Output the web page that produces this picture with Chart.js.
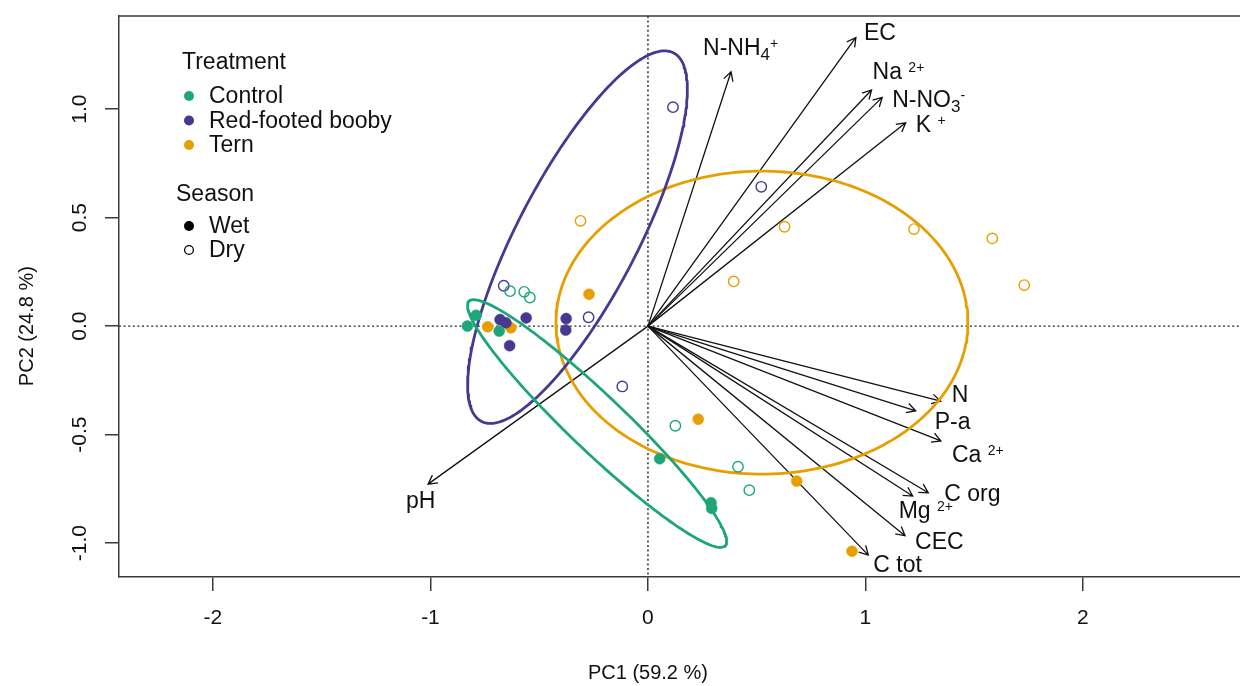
<!DOCTYPE html>
<html>
<head>
<meta charset="utf-8">
<script src="https://cdn.jsdelivr.net/npm/chart.js@4.4.0/dist/chart.umd.min.js"></script>
<style>
  html, body { margin: 0; padding: 0; background: #fff; }
  #wrap { width: 1240px; height: 686px; position: relative; }
</style>
</head>
<body>
<div id="wrap"><canvas id="pcaChart"></canvas></div>
<script>
// PCA biplot - sample scores, loadings and group ellipses

// sample scores (PC1 / PC2)
var controlWetPC1 = [-0.830, -0.790, -0.684, 0.054, 0.290, 0.293];
var controlWetPC2 = [0.000, 0.050, -0.023, -0.611, -0.814, -0.840];
var controlDryPC1 = [-0.634, -0.569, -0.543, 0.126, 0.414, 0.466];
var controlDryPC2 = [0.161, 0.158, 0.132, -0.459, -0.648, -0.756];
var boobyWetPC1 = [-0.680, -0.653, -0.636, -0.560, -0.376, -0.378];
var boobyWetPC2 = [0.030, 0.015, -0.090, 0.038, 0.035, -0.018];
var boobyDryPC1 = [-0.663, -0.273, -0.118, 0.521, 0.115];
var boobyDryPC2 = [0.186, 0.041, -0.278, 0.642, 1.009];
var ternWetPC1 = [-0.737, -0.630, -0.271, 0.231, 0.684, 0.938];
var ternWetPC2 = [-0.003, -0.008, 0.147, -0.429, -0.714, -1.037];
var ternDryPC1 = [-0.310, 0.628, 0.394, 1.223, 1.583, 1.730];
var ternDryPC2 = [0.485, 0.458, 0.206, 0.447, 0.404, 0.189];

// variable loadings (arrow tips)
var loadingNames = ['N-NH_{4}^{+}', 'EC', 'Na ^{2+}', 'N-NO_{3}^{-}', 'K ^{+}', 'N', 'P-a', 'Ca ^{2+}', 'C org', 'Mg ^{2+}', 'CEC', 'C tot', 'pH'];
var loadingPC1 = [0.382, 0.956, 1.028, 1.077, 1.185, 1.346, 1.231, 1.347, 1.289, 1.217, 1.182, 1.013, -1.011];
var loadingPC2 = [1.172, 1.330, 1.088, 1.054, 0.937, -0.346, -0.390, -0.529, -0.768, -0.783, -0.966, -1.055, -0.728];

// group ellipses: Control, Red-footed booby, Tern
var ellipseCenterX = [-0.234, -0.324, 0.524];
var ellipseCenterY = [-0.449, 0.410, 0.016];
var ellipseSemiMajor = [0.815, 0.957, 0.947];
var ellipseSemiMinor = [0.128, 0.276, 0.698];
var ellipseAngle = [-43.7, 62.5, 0];

// axes
var xTicks = [-2, -1, 0, 1, 2];
var yTicks = [-1.0, -0.5, 0.0, 0.5, 1.0];
var xMin = -2.432, xMax = 2.722;
var yMin = -1.156, yMax = 1.429;
var xTitle = 'PC1 (59.2 %)';
var yTitle = 'PC2 (24.8 %)';

var treatmentNames = ['Control', 'Red-footed booby', 'Tern'];
var seasonNames = ['Wet', 'Dry'];

var colGreen = '#1FA57A';
var colPurple = '#46398F';
var colOrange = '#E69F00';
var groupColors = [colGreen, colPurple, colOrange];
var textColor = '#111';
var axisColor = '#3a3a3a';
var fontFamily = '"Liberation Sans", Arial, Helvetica, sans-serif';

// label offsets in px from arrow tip (left edge, vertical middle)
var labelOffsets = [[-28, -25], [8, -6], [1, -19], [10, 1], [10, 1], [11, -7], [19, 10], [11, 13], [16, 0], [-14, 14], [10, 5], [5, 9], [-22, 16]];

function toPoints(xs, ys) {
    var pts = [];
    for (var i = 0; i < xs.length; i++) pts.push({ x: xs[i], y: ys[i] });
    return pts;
}

// outline of ellipse i, starting mid-side so the seam is not at a sharp tip
function ellipseOutline(i) {
    var pts = [];
    var t = ellipseAngle[i] * Math.PI / 180;
    for (var k = 0; k <= 242; k++) {
        var a = Math.PI / 2 + k / 240 * 2 * Math.PI;
        var u = ellipseSemiMajor[i] * Math.cos(a);
        var v = ellipseSemiMinor[i] * Math.sin(a);
        pts.push({
            x: ellipseCenterX[i] + u * Math.cos(t) - v * Math.sin(t),
            y: ellipseCenterY[i] + u * Math.sin(t) + v * Math.cos(t)
        });
    }
    return pts;
}

function pointSet(xs, ys, color, filled) {
    return {
        data: toPoints(xs, ys),
        showLine: false,
        pointRadius: filled ? 5.5 : 5.2,
        pointBorderWidth: filled ? 0.5 : 1.4,
        pointBackgroundColor: filled ? color : 'rgba(0,0,0,0)',
        pointBorderColor: color,
        order: 0
    };
}

function ellipseSet(i) {
    return {
        data: ellipseOutline(i),
        showLine: true,
        pointRadius: 0,
        borderColor: groupColors[i],
        borderWidth: 2.8,
        borderCapStyle: 'round',
        borderJoinStyle: 'round',
        tension: 0,
        order: 1
    };
}

// draws text like 'N-NH_{4}^{+}' with sub/superscripts
function drawRichLabel(ctx, str, x, yMid, size) {
    var parts = [];
    var re = /([_^])\{([^}]*)\}/g;
    var last = 0, m;
    while ((m = re.exec(str)) !== null) {
        if (m.index > last) parts.push({ t: str.slice(last, m.index), k: 'n' });
        parts.push({ t: m[2], k: m[1] === '_' ? 'sub' : 'sup' });
        last = re.lastIndex;
    }
    if (last < str.length) parts.push({ t: str.slice(last), k: 'n' });
    var base = yMid + size * 0.716 / 2;
    ctx.textBaseline = 'alphabetic';
    ctx.textAlign = 'left';
    parts.forEach(function(p) {
        var fs = size, dy = 0;
        if (p.k === 'sub') { fs = Math.round(size * 0.72); dy = 5; }
        if (p.k === 'sup') { fs = Math.round(size * 0.62); dy = -7; }
        ctx.font = fs + 'px ' + fontFamily;
        ctx.fillText(p.t, x, base + dy);
        x += ctx.measureText(p.t).width;
    });
}

var biplotPlugin = {
    id: 'biplot',
    beforeDatasetsDraw: function(chart) {
        var ctx = chart.ctx, area = chart.chartArea;
        var xs = chart.scales.x, ys = chart.scales.y;
        var x0 = xs.getPixelForValue(0), y0 = ys.getPixelForValue(0);
        ctx.save();
        // dotted zero lines
        ctx.strokeStyle = '#222';
        ctx.lineWidth = 1.4;
        ctx.setLineDash([2, 2.6]);
        ctx.beginPath();
        ctx.moveTo(area.left, y0); ctx.lineTo(area.right, y0);
        ctx.moveTo(x0, area.top); ctx.lineTo(x0, area.bottom);
        ctx.stroke();
        ctx.setLineDash([]);
        // loading arrows
        ctx.strokeStyle = '#111';
        ctx.lineWidth = 1.3;
        for (var i = 0; i < loadingPC1.length; i++) {
            var tx = xs.getPixelForValue(loadingPC1[i]);
            var ty = ys.getPixelForValue(loadingPC2[i]);
            var ang = Math.atan2(ty - y0, tx - x0);
            var hl = 10, ha = 0.5;
            ctx.beginPath();
            ctx.moveTo(x0, y0); ctx.lineTo(tx, ty);
            ctx.moveTo(tx - hl * Math.cos(ang - ha), ty - hl * Math.sin(ang - ha));
            ctx.lineTo(tx, ty);
            ctx.lineTo(tx - hl * Math.cos(ang + ha), ty - hl * Math.sin(ang + ha));
            ctx.stroke();
        }
        ctx.restore();
    },
    afterDraw: function(chart) {
        var ctx = chart.ctx, area = chart.chartArea;
        var xs = chart.scales.x, ys = chart.scales.y;
        ctx.save();
        // top frame line
        ctx.strokeStyle = axisColor;
        ctx.lineWidth = 1.5;
        ctx.beginPath();
        ctx.moveTo(area.left, area.top); ctx.lineTo(area.right, area.top);
        ctx.stroke();

        ctx.fillStyle = textColor;
        // arrow labels
        for (var i = 0; i < loadingNames.length; i++) {
            var tx = xs.getPixelForValue(loadingPC1[i]);
            var ty = ys.getPixelForValue(loadingPC2[i]);
            drawRichLabel(ctx, loadingNames[i], tx + labelOffsets[i][0], ty + labelOffsets[i][1], 23);
        }

        // tick labels
        ctx.font = '21px ' + fontFamily;
        ctx.textAlign = 'center';
        ctx.textBaseline = 'middle';
        xTicks.forEach(function(v) {
            ctx.fillText(String(v), xs.getPixelForValue(v), 618);
        });
        yTicks.forEach(function(v) {
            ctx.save();
            ctx.translate(80, ys.getPixelForValue(v));
            ctx.rotate(-Math.PI / 2);
            ctx.fillText(v.toFixed(1), 0, 0);
            ctx.restore();
        });

        // axis titles
        ctx.font = '20px ' + fontFamily;
        ctx.fillText(xTitle, xs.getPixelForValue(0), 673);
        ctx.save();
        ctx.translate(27, ys.getPixelForValue(0));
        ctx.rotate(-Math.PI / 2);
        ctx.fillText(yTitle, 0, 0);
        ctx.restore();

        // legend
        ctx.font = '23px ' + fontFamily;
        ctx.textAlign = 'left';
        ctx.fillText('Treatment', 182, 63);
        treatmentNames.forEach(function(name, k) {
            var cy = 96 + k * 24.5;
            ctx.fillStyle = groupColors[k];
            ctx.beginPath(); ctx.arc(189, cy, 5, 0, 2 * Math.PI); ctx.fill();
            ctx.fillStyle = textColor;
            ctx.fillText(name, 209, cy + 1);
        });
        ctx.fillText('Season', 176, 195);
        seasonNames.forEach(function(name, k) {
            var cy = 226 + k * 24;
            ctx.beginPath(); ctx.arc(189, cy, k === 0 ? 5 : 4.4, 0, 2 * Math.PI);
            if (k === 0) { ctx.fillStyle = '#000'; ctx.fill(); }
            else { ctx.strokeStyle = '#000'; ctx.lineWidth = 1.3; ctx.stroke(); }
            ctx.fillStyle = textColor;
            ctx.fillText(name, 209, cy + 1);
        });
        ctx.restore();
    }
};

var datasets = [
    pointSet(controlWetPC1, controlWetPC2, colGreen, true),
    pointSet(controlDryPC1, controlDryPC2, colGreen, false),
    pointSet(boobyWetPC1, boobyWetPC2, colPurple, true),
    pointSet(boobyDryPC1, boobyDryPC2, colPurple, false),
    pointSet(ternWetPC1, ternWetPC2, colOrange, true),
    pointSet(ternDryPC1, ternDryPC2, colOrange, false),
    ellipseSet(0), ellipseSet(1), ellipseSet(2)
];

new Chart(document.getElementById('pcaChart').getContext('2d'), {
    type: 'scatter',
    data: { datasets: datasets },
    options: {
        responsive: true,
        maintainAspectRatio: false,
        animation: false,
        layout: { autoPadding: false, padding: { top: 16, left: 0, right: 0, bottom: 0 } },
        plugins: { legend: { display: false }, tooltip: { enabled: false } },
        scales: {
            x: {
                type: 'linear', min: xMin, max: xMax,
                ticks: { display: false, stepSize: 1, includeBounds: false },
                grid: { drawOnChartArea: false, drawTicks: true, tickLength: 14, color: axisColor, lineWidth: 1.5 },
                border: { display: true, color: axisColor, width: 1.5 },
                afterFit: function(scale) { scale.height = 109; }
            },
            y: {
                type: 'linear', min: yMin, max: yMax,
                ticks: { display: false, stepSize: 0.5, includeBounds: false },
                grid: { drawOnChartArea: false, drawTicks: true, tickLength: 14, color: axisColor, lineWidth: 1.5 },
                border: { display: true, color: axisColor, width: 1.5 },
                afterFit: function(scale) { scale.width = 119; }
            }
        }
    },
    plugins: [biplotPlugin]
});
</script>
</body>
</html>
